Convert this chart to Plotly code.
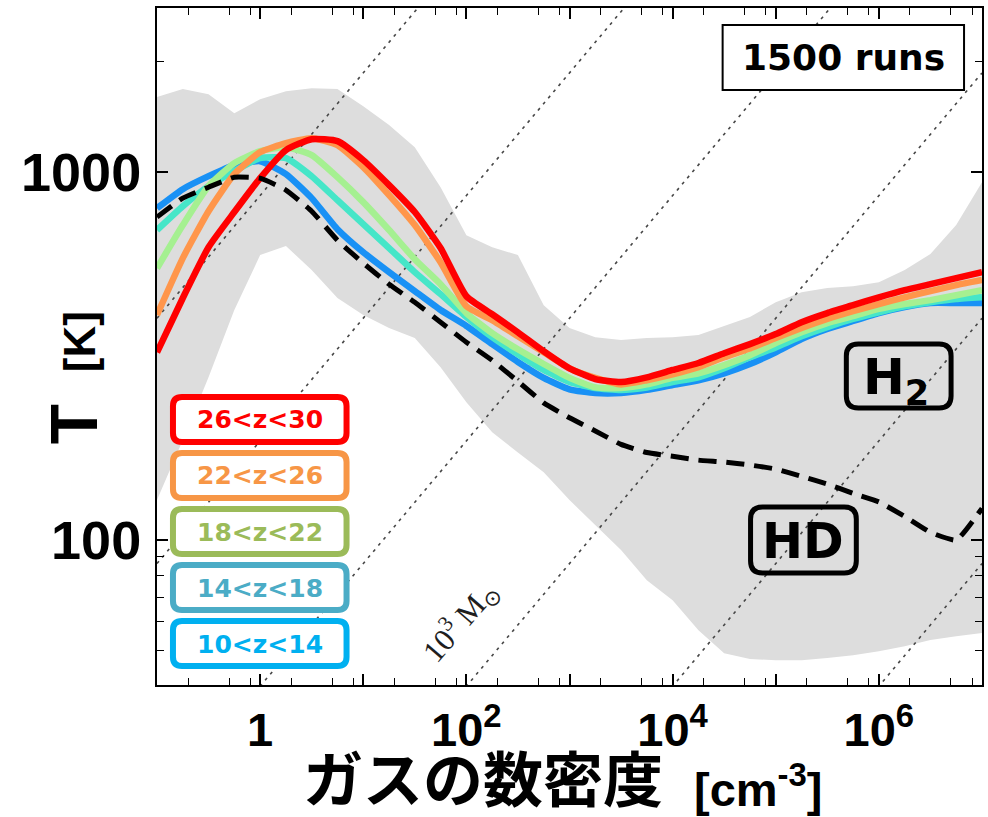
import math
import plotly.graph_objects as go

# ---------------- data ----------------
density = [0.1, 0.178, 0.316, 0.562, 1, 1.78, 3.16, 5.62, 10, 17.8, 31.6, 56.2,
           100, 178, 316, 562, 1e3, 1.78e3, 3.16e3, 5.62e3, 1e4, 1.78e4, 3.16e4,
           5.62e4, 1e5, 1.78e5, 3.16e5, 5.62e5, 1e6, 1.78e6, 3.16e6, 5.62e6, 1e7]

T_z26_30 = [324, 455, 625, 779, 963, 1148, 1229, 1214, 1078, 922, 779, 622, 460, 411,
            367, 326, 293, 274, 269, 277, 290, 303, 322, 341, 363, 391, 414, 435, 457,
            478, 496, 515, 535]
T_z22_26 = [409, 584, 783, 988, 1133, 1199, 1237, 1184, 1032, 866, 718, 569, 432, 396,
            358, 324, 293, 276, 265, 272, 282, 295, 314, 332, 354, 377, 399, 419, 438,
            457, 475, 493, 509]
T_z18_22 = [548, 718, 916, 1058, 1140, 1169, 1112, 969, 829, 696, 580, 496, 414, 365,
            330, 301, 276, 260, 259, 265, 276, 284, 299, 318, 343, 367, 389, 406, 425,
            438, 449, 463, 478]
T_z14_18 = [696, 808, 916, 1006, 1092, 1092, 975, 839, 722, 622, 535, 466, 404, 356,
            320, 290, 269, 259, 256, 260, 269, 277, 293, 314, 334, 358, 379, 399, 416,
            432, 443, 452, 457]
T_z10_14 = [798, 899, 975, 1045, 1071, 988, 850, 700, 606, 535, 475, 422, 382, 341,
            305, 276, 257, 251, 251, 256, 264, 272, 284, 301, 324, 352, 375, 394, 414,
            430, 441, 441, 441]
T_HD = [755, 850, 910, 969, 963, 894, 783, 653, 566, 496, 443, 391, 345, 308, 270, 236,
        215, 198, 182, 173, 169, 165, 163, 160, 156, 149, 142, 134, 127, 116, 105, 100, 122]

band_upper = [1599, 1681, 1629, 1446, 1578, 1660, 1691, 1681, 1511, 1342, 1169, 910, 674,
              625, 595, 435, 377, 356, 350, 354, 356, 361, 382, 404, 443, 472, 484, 490,
              502, 542, 599, 718, 939]
band_lower = [128.5, 187, 277, 422, 595, 630, 542, 455, 409, 377, 354, 295, 237, 196.5,
              173, 153, 128.5, 110, 94, 77.8, 68.7, 56.9, 49.3, 47.5, 47.2, 47.2, 47.8,
              48.7, 49.9, 51.5, 53.5, 54.8, 55.9]

z_labels = ["26<z<30", "22<z<26", "18<z<22", "14<z<18", "10<z<14"]
jeans_masses = [1e6, 1e5, 1e4, 1e3, 1e2, 10]   # solar masses
jeans_const = 39.4                              # M_J = K T^1.5 n^-0.5

x_tickvals = [1, 10, 100, 1e3, 1e4, 1e5, 1e6]
x_ticktext = ["1", "", "10<sup>2</sup>", "", "10<sup>4</sup>", "", "10<sup>6</sup>"]
y_tickvals = [100, 1000]
y_ticktext = ["100", "1000"]

# ---------------- styles ----------------
line_colors = ["rgb(255,0,0)", "rgb(255,150,75)", "rgb(165,240,145)",
               "rgb(70,230,200)", "rgb(25,145,245)"]
box_colors = ["#FF0000", "#F79646", "#9BBB59", "#4BACC6", "#00B0F0"]
series = [T_z26_30, T_z22_26, T_z18_22, T_z14_18, T_z10_14]

W, H = 988, 817
PL, PR, PT, PB = 157, 984, 8, 685
SANS = "Liberation Sans"
WIDE = "DejaVu Sans"


def fx(x):
    return (x - PL) / (PR - PL)


def fy(y):
    return (PB - y) / (PB - PT)


def rrect(x0, y0, x1, y1, r):
    return (f"M {fx(x0 + r)},{fy(y0)} L {fx(x1 - r)},{fy(y0)} "
            f"Q {fx(x1)},{fy(y0)} {fx(x1)},{fy(y0 + r)} L {fx(x1)},{fy(y1 - r)} "
            f"Q {fx(x1)},{fy(y1)} {fx(x1 - r)},{fy(y1)} L {fx(x0 + r)},{fy(y1)} "
            f"Q {fx(x0)},{fy(y1)} {fx(x0)},{fy(y1 - r)} L {fx(x0)},{fy(y0 + r)} "
            f"Q {fx(x0)},{fy(y0)} {fx(x0 + r)},{fy(y0)} Z")


def label(x, y, text, size, color="black", family=SANS, angle=0, weight="bold"):
    return dict(xref="paper", yref="paper", x=fx(x), y=fy(y), text=text,
                showarrow=False, xanchor="center", yanchor="middle", textangle=angle,
                font=dict(family=family, size=size, color=color, weight=weight))


fig = go.Figure()

# scatter band
fig.add_trace(go.Scatter(x=density, y=band_lower, mode="lines",
                         line=dict(width=0, color="rgb(221,221,221)"),
                         showlegend=False, hoverinfo="skip"))
fig.add_trace(go.Scatter(x=density, y=band_upper, mode="lines", fill="tonexty",
                         fillcolor="rgb(221,221,221)",
                         line=dict(width=0, color="rgb(221,221,221)"),
                         showlegend=False, hoverinfo="skip"))

# constant Jeans-mass lines
n_ends = [0.1, 1e7]
for M in jeans_masses:
    T_line = [(M * math.sqrt(n) / jeans_const) ** (2.0 / 3.0) for n in n_ends]
    fig.add_trace(go.Scatter(x=n_ends, y=T_line, mode="lines",
                             line=dict(color="rgb(70,70,70)", width=1.6, dash="3px,5px"),
                             showlegend=False, hoverinfo="skip"))

# redshift-binned mean curves (blue first, red on top)
for T_vals, col, lab in reversed(list(zip(series, line_colors, z_labels))):
    fig.add_trace(go.Scatter(x=density, y=T_vals, mode="lines", name=lab,
                             line=dict(color=col, width=6.5, shape="spline", smoothing=0.5),
                             showlegend=False))

fig.add_trace(go.Scatter(x=density, y=T_HD, mode="lines", name="HD",
                         line=dict(color="black", width=5, dash="18px,10px",
                                   shape="spline", smoothing=0.4),
                         showlegend=False))

shapes = []
annotations = []

# legend boxes
box_tops = [397, 453, 509, 565, 621]
for lab, col, top in zip(z_labels, box_colors, box_tops):
    shapes.append(dict(type="path", xref="paper", yref="paper",
                       path=rrect(173, top, 347, top + 45, 9),
                       line=dict(color=col, width=6), fillcolor="white", layer="above"))
    annotations.append(label(260, top + 23, lab.replace("<", "&lt;"), 25, color=col,
                             family=WIDE))

# 1500 runs box
shapes.append(dict(type="rect", xref="paper", yref="paper",
                   x0=fx(724), x1=fx(966), y0=fy(90), y1=fy(25),
                   line=dict(color="black", width=2), fillcolor="white", layer="above"))
annotations.append(label(845, 58, "1500 runs", 36, family=WIDE))

# H2 and HD boxes
shapes.append(dict(type="path", xref="paper", yref="paper",
                   path=rrect(848, 344, 953, 408, 12),
                   line=dict(color="black", width=5), fillcolor="rgba(0,0,0,0)", layer="above"))
annotations.append(label(898, 380, "H<sub>2</sub>", 50, family=WIDE))
shapes.append(dict(type="path", xref="paper", yref="paper",
                   path=rrect(752, 507, 858, 573, 12),
                   line=dict(color="black", width=5), fillcolor="rgba(0,0,0,0)", layer="above"))
annotations.append(label(805, 541, "HD", 49, family=WIDE))

# Jeans-mass label
annotations.append(label(461, 622, "10<sup>3</sup> M<sub>⊙</sub>", 31,
                         color="rgb(30,30,30)", family="Liberation Serif", angle=-49,
                         weight="normal"))

# axis titles (main part + unit, each bold)
annotations.append(label(74, 424, "<b>T</b>", 66, angle=-90))
annotations.append(label(79, 342, "<b>[K]</b>", 44, angle=-90))
annotations.append(label(484, 775, "<b>ガスの数密度</b>", 60, family="Noto Sans CJK JP"))
annotations.append(label(760, 786, "<b>[cm<sup>-3</sup>]</b>", 47))

x_minor = []
for d in [0.1, 1, 10, 100, 1e3, 1e4, 1e5, 1e6]:
    x_minor += [2 * d, 5 * d, 8 * d]

fig.update_layout(
    width=W, height=H,
    margin=dict(l=PL, r=W - PR, t=PT, b=H - PB),
    paper_bgcolor="white", plot_bgcolor="white",
    shapes=shapes, annotations=annotations,
    xaxis=dict(type="log", range=[-1, 7], tickmode="array",
               tickvals=x_tickvals, ticktext=x_ticktext,
               ticks="inside", ticklen=11, tickwidth=1.5, tickcolor="black",
               showline=True, linecolor="black", linewidth=2, mirror="allticks",
               showgrid=False, zeroline=False, ticklabelstandoff=3,
               tickfont=dict(family=SANS, size=47, color="black", weight="bold"),
               minor=dict(tickvals=x_minor, ticks="inside", ticklen=7,
                          tickwidth=1.3, tickcolor="black", showgrid=False)),
    yaxis=dict(type="log", range=[math.log10(40.4), 3.446], tickmode="array",
               tickvals=y_tickvals, ticktext=y_ticktext,
               ticks="inside", ticklen=11, tickwidth=1.5, tickcolor="black",
               showline=True, linecolor="black", linewidth=2, mirror="allticks",
               showgrid=False, zeroline=False, ticklabelstandoff=3,
               tickfont=dict(family=SANS, size=54, color="black", weight="bold"),
               minor=dict(tickvals=[50, 60, 70, 80, 90, 2000], ticks="inside", ticklen=7,
                          tickwidth=1.3, tickcolor="black", showgrid=False)),
)

fig.write_html("out.html")
